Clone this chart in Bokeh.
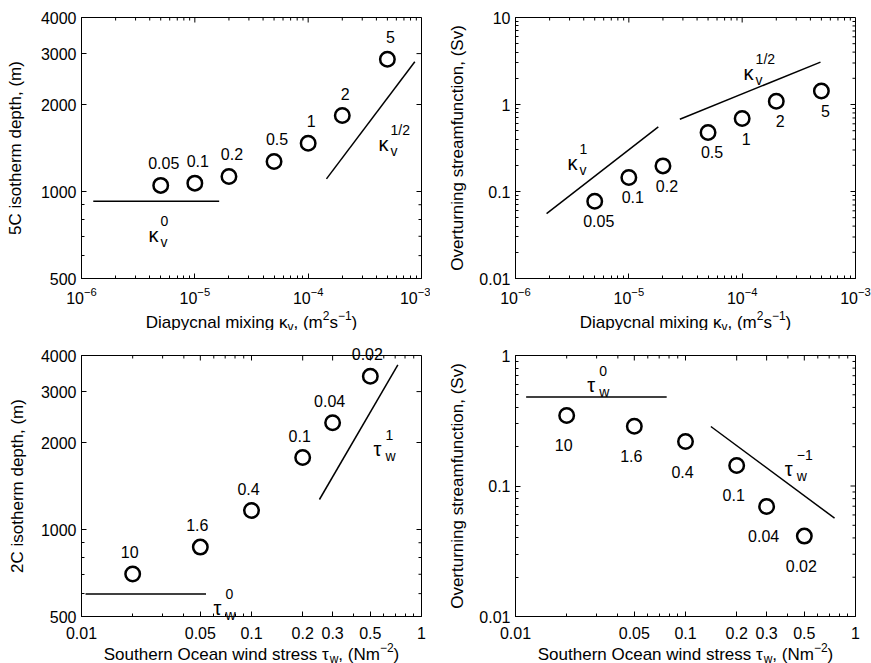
from math import pi, sqrt
from bokeh.plotting import figure
from bokeh.models import FixedTicker, BasicTickFormatter, LogTickFormatter
from bokeh.layouts import gridplot
from bokeh.core.properties import value
from bokeh.embed import file_html
from bokeh.resources import INLINE

FONT = "Liberation Sans"

# ---------------- data ----------------
# diapycnal mixing experiments (x: kappa_v in m^2/s)
kv_vals = [5e-6, 1e-5, 2e-5, 5e-5, 1e-4, 2e-4, 5e-4]
kv_labels = ["0.05", "0.1", "0.2", "0.5", "1", "2", "5"]
depth5C = [1050, 1069, 1127, 1270, 1469, 1832, 2870]
psi_kv = [0.0774, 0.145, 0.197, 0.477, 0.690, 1.09, 1.43]

# wind stress experiments (x: tau_w in N/m^2)
tau_vals = [0.02, 0.05, 0.1, 0.2, 0.3, 0.5]
tau_labels = ["10", "1.6", "0.4", "0.1", "0.04", "0.02"]
depth2C = [702, 869, 1163, 1774, 2339, 3393]
psi_tau = [0.347, 0.287, 0.219, 0.1436, 0.0697, 0.0413]

# scaling reference lines
p1_flat_x = [1.27e-6, 1.64e-5]; p1_flat_y = [926, 926]
p1_half_x = [1.45e-4, 8.73e-4]; p1_half_y = [1106, 2811]
p2_one_x = [1.88e-6, 1.82e-5]; p2_one_y = [0.0558, 0.554]
p2_half_x = [2.82e-5, 4.91e-4]; p2_half_y = [0.678, 3.07]
p3_flat_x = [0.01056, 0.054]; p3_flat_y = [598, 598]
p3_one_x = [0.251, 0.726]; p3_one_y = [1270, 3715]
p4_flat_x = [0.01155, 0.0775]; p4_flat_y = [0.48, 0.48]
p4_inv_x = [0.141, 0.753]; p4_inv_y = [0.2857, 0.0567]

# axis ranges and ticks
kv_range = (1e-6, 1e-3)
tau_range = (0.01, 1)
depth_range = (500, 4000)
psi_range_top = (0.01, 10)
psi_range_bot = (0.01, 1)
kv_ticks = [1e-6, 1e-5, 1e-4, 1e-3]
kv_minor = [k * 10.0 ** e for e in (-6, -5, -4) for k in range(2, 10)]
tau_ticks = [0.01, 0.05, 0.1, 0.2, 0.3, 0.5, 1]
tau_minor = [0.02, 0.03, 0.04, 0.06, 0.07, 0.08, 0.09, 0.4, 0.6, 0.7, 0.8, 0.9]
depth_ticks = [500, 1000, 2000, 3000, 4000]
depth_minor = [600, 700, 800, 900]
psi_ticks_top = [0.01, 0.1, 1, 10]
psi_ticks_bot = [0.01, 0.1, 1]
psi_minor_top = [k * 10.0 ** e for e in (-2, -1, 0) for k in range(2, 10)]
psi_minor_bot = [k * 10.0 ** e for e in (-2, -1) for k in range(2, 10)]

# ---------------- helpers ----------------
W = {' ': 0.278, '(': 0.333, ')': 0.333, ',': 0.278, '.': 0.278, '/': 0.278,
     '\u2212': 0.584, '-': 0.333,
     'C': 0.722, 'D': 0.722, 'N': 0.722, 'O': 0.778, 'S': 0.667,
     'a': 0.556, 'b': 0.556, 'c': 0.5, 'd': 0.556, 'e': 0.556, 'f': 0.278,
     'g': 0.556, 'h': 0.556, 'i': 0.222, 'k': 0.5, 'l': 0.222, 'm': 0.833,
     'n': 0.556, 'o': 0.556, 'p': 0.556, 'r': 0.333, 's': 0.5, 't': 0.278,
     'u': 0.556, 'v': 0.5, 'w': 0.722, 'x': 0.5, 'y': 0.5, 'z': 0.5,
     '\u03ba': 0.5, '\u03c4': 0.45}


def tw(s, px):
    return sum(W.get(c, 0.556) for c in s) * px


def gmean(r):
    return sqrt(r[0] * r[1])


def txt(p, x, y, t, size, dx=0, dy=0, align="left", baseline="alphabetic",
        angle=0.0):
    p.text(x=[x], y=[y], text=[t], x_offset=dx, y_offset=dy, angle=angle,
           text_align=align, text_baseline=baseline, text_font=value(FONT),
           text_font_size=f"{size}px", text_color="black", level="overlay")


def rich_xlabel(p, pieces, xr, yr, below):
    total = sum(tw(t, s) for t, s, _ in pieces)
    off = -total / 2.0
    for t, s, up in pieces:
        txt(p, gmean(xr), yr[0], t, s, dx=off, dy=below - up)
        off += tw(t, s)


def ylabel(p, text, xr, yr, left):
    txt(p, xr[0], gmean(yr), text, 17, dx=-left, align="center",
        baseline="middle", angle=pi / 2)


def make_fig(w, h, xr, yr, mbl, mbr, mbt, mbb):
    p = figure(width=w, height=h, x_axis_type="log", y_axis_type="log",
               x_range=xr, y_range=yr, output_backend="svg",
               toolbar_location=None, min_border_left=mbl,
               min_border_right=mbr, min_border_top=mbt, min_border_bottom=mbb)
    p.xgrid.visible = False
    p.ygrid.visible = False
    p.outline_line_color = "black"
    p.outline_line_width = 1
    p.background_fill_color = "white"
    p.border_fill_color = "white"
    return p


def style_axis(ax, ticks, minor, formatter, standoff):
    ax.ticker = FixedTicker(ticks=ticks, minor_ticks=minor)
    ax.formatter = formatter
    ax.major_tick_in = 5
    ax.major_tick_out = 0
    ax.minor_tick_in = 3
    ax.minor_tick_out = 0
    ax.axis_line_color = "black"
    ax.major_tick_line_color = "black"
    ax.minor_tick_line_color = "black"
    ax.major_label_text_font = FONT
    ax.major_label_text_color = "black"
    ax.major_label_text_font_size = "16px"
    ax.major_label_standoff = standoff


def mirror_ticks(p, xr, yr, xt, xm, yt, ym):
    # inward ticks on the top and right edges of the box
    for ticks, ln in ((xt, 5), (xm, 3)):
        p.ray(x=ticks, y=[yr[1]] * len(ticks), length=ln, length_units="screen",
              angle=-pi / 2, line_color="black", line_width=1)
    for ticks, ln in ((yt, 5), (ym, 3)):
        p.ray(x=[xr[1]] * len(ticks), y=ticks, length=ln, length_units="screen",
              angle=pi, line_color="black", line_width=1)


def circles(p, xs, ys, labels, dx, dy):
    p.scatter(xs, ys, marker="circle", size=14.5, fill_color=None,
              line_color="black", line_width=2.5)
    p.text(x=xs, y=ys, text=labels, x_offset=dx, y_offset=dy,
           text_align="center", text_baseline="middle",
           text_font=value(FONT), text_font_size="16px", text_color="black",
           level="overlay")


def power(p, x, y, base, sub, sup):
    txt(p, x, y, base, 20)
    txt(p, x, y, sup, 14, dx=12, dy=-14)
    txt(p, x, y, sub, 14, dx=12, dy=7)


KAPPA = "\u03ba"
TAU = "\u03c4"

kv_xlabel = [("Diapycnal mixing ", 17, 0), (KAPPA, 17, 0), ("v", 12, -4),
             (", (m", 17, 0), ("2", 12, 7), ("s", 17, 0), ("\u22121", 12, 7),
             (")", 17, 0)]
tau_xlabel = [("Southern Ocean wind stress ", 17, 0), (TAU, 17, 0), ("w", 12, -4),
              (", (Nm", 17, 0), ("\u22122", 12, 7), (")", 17, 0)]

basic = lambda: BasicTickFormatter(use_scientific=False)

# ---------------- panel 1 ----------------
p1 = make_fig(430, 330, kv_range, depth_range, 81, 9, 17, 52)
style_axis(p1.xaxis[0], kv_ticks, kv_minor, LogTickFormatter(), 8)
style_axis(p1.yaxis[0], depth_ticks, depth_minor, basic(), 5)
mirror_ticks(p1, kv_range, depth_range, kv_ticks, kv_minor, depth_ticks, depth_minor)
p1.line(p1_flat_x, p1_flat_y, line_color="black", line_width=1.5)
p1.line(p1_half_x, p1_half_y, line_color="black", line_width=1.5)
circles(p1, kv_vals, depth5C, kv_labels, 3, -22)
power(p1, 3.9e-6, 708, KAPPA, "v", "0")
power(p1, 4.18e-4, 1462, KAPPA, "v", "1/2")
rich_xlabel(p1, kv_xlabel, kv_range, depth_range, 44)
ylabel(p1, "5C isotherm depth, (m)", kv_range, depth_range, 66)

# ---------------- panel 2 ----------------
p2 = make_fig(441, 330, kv_range, psi_range_top, 85, 16, 17, 52)
style_axis(p2.xaxis[0], kv_ticks, kv_minor, LogTickFormatter(), 8)
style_axis(p2.yaxis[0], psi_ticks_top, psi_minor_top, basic(), 5)
mirror_ticks(p2, kv_range, psi_range_top, kv_ticks, kv_minor, psi_ticks_top, psi_minor_top)
p2.line(p2_one_x, p2_one_y, line_color="black", line_width=1.5)
p2.line(p2_half_x, p2_half_y, line_color="black", line_width=1.5)
circles(p2, kv_vals, psi_kv, kv_labels, 4, 20)
power(p2, 2.88e-6, 0.21, KAPPA, "v", "1")
power(p2, 1.03e-4, 2.33, KAPPA, "v", "1/2")
rich_xlabel(p2, kv_xlabel, kv_range, psi_range_top, 44)
ylabel(p2, "Overturning streamfunction, (Sv)", kv_range, psi_range_top, 58)

# ---------------- panel 3 ----------------
p3 = make_fig(430, 333, tau_range, depth_range, 81, 9, 25, 47)
style_axis(p3.xaxis[0], tau_ticks, tau_minor, basic(), 10)
style_axis(p3.yaxis[0], depth_ticks, depth_minor, basic(), 5)
mirror_ticks(p3, tau_range, depth_range, tau_ticks, tau_minor, depth_ticks, depth_minor)
p3.line(p3_flat_x, p3_flat_y, line_color="black", line_width=1.5)
p3.line(p3_one_x, p3_one_y, line_color="black", line_width=1.5)
circles(p3, tau_vals, depth2C, tau_labels, -3, -22)
power(p3, 0.0598, 537, TAU, "w", "0")
power(p3, 0.522, 1905, TAU, "w", "1")
rich_xlabel(p3, tau_xlabel, tau_range, depth_range, 38)
ylabel(p3, "2C isotherm depth, (m)", tau_range, depth_range, 64)

# ---------------- panel 4 ----------------
p4 = make_fig(441, 333, tau_range, psi_range_bot, 85, 16, 25, 47)
style_axis(p4.xaxis[0], tau_ticks, tau_minor, basic(), 10)
style_axis(p4.yaxis[0], psi_ticks_bot, psi_minor_bot, basic(), 5)
mirror_ticks(p4, tau_range, psi_range_bot, tau_ticks, tau_minor, psi_ticks_bot, psi_minor_bot)
p4.line(p4_flat_x, p4_flat_y, line_color="black", line_width=1.5)
p4.line(p4_inv_x, p4_inv_y, line_color="black", line_width=1.5)
circles(p4, tau_vals, psi_tau, tau_labels, -3, 30)
power(p4, 0.0264, 0.589, TAU, "w", "0")
power(p4, 0.3834, 0.136, TAU, "w", "\u22121")
rich_xlabel(p4, tau_xlabel, tau_range, psi_range_bot, 38)
ylabel(p4, "Overturning streamfunction, (Sv)", tau_range, psi_range_bot, 58)

grid = gridplot([[p1, p2], [p3, p4]], toolbar_location=None)

open("out.html", "w").write(file_html(grid, INLINE))
